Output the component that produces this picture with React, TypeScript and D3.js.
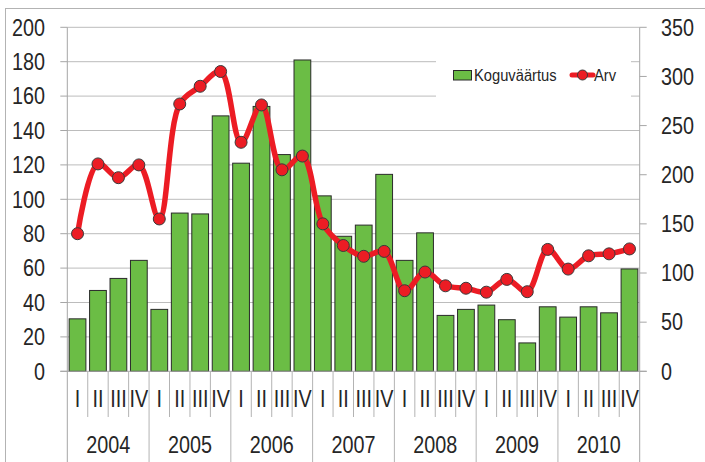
import React from "react";
import * as d3 from "d3";

const years = ["2004", "2005", "2006", "2007", "2008", "2009", "2010"];
const quarters = ["I", "II", "III", "IV"];
const koguvaartus = [
  30.5, 47, 54, 64.5,
  36, 92, 91.5, 148.5,
  121, 154, 126, 181,
  102, 78.5, 85, 114.5,
  64.5, 80.5, 32.5, 36,
  38.5, 30, 16.5, 37.5,
  31.5, 37.5, 34, 59.5,
];
const arv = [
  140, 211, 197, 210,
  155, 272, 290, 305,
  233, 271, 205, 219,
  150, 128, 117, 122,
  82, 101, 87, 84.5,
  80.5, 93.5, 81, 124,
  104, 117.5, 119.5, 124.5,
];
const leftTicks = [0, 20, 40, 60, 80, 100, 120, 140, 160, 180, 200];
const rightTicks = [0, 50, 100, 150, 200, 250, 300, 350];

const W = 705, H = 462;
const X0 = 67.3, X1 = 639.7, Y0 = 371.3, Y1 = 27.3;
const FONT = "'Liberation Sans', Arial, sans-serif";
const GREEN = "#6bbd45";
const RED = "#ec1c24";
const TXT = "#262626";

function T(props: {
  x: number;
  y: number;
  anchor?: "start" | "middle" | "end";
  size?: number;
  sx?: number;
  children: React.ReactNode;
}) {
  const { x, y, anchor = "start", size = 23, sx = 0.86, children } = props;
  return (
    <text
      transform={`translate(${x},${y}) scale(${sx},1)`}
      dy="0.36em"
      textAnchor={anchor}
      fontSize={size}
      fontFamily={FONT}
      fill={TXT}
    >
      {children}
    </text>
  );
}

export default function App() {
  const cats = years.flatMap((y) => quarters.map((q) => `${y}-${q}`));
  const x = d3.scaleBand().domain(cats).range([X0, X1]).paddingInner(0.18).paddingOuter(0.09);
  const bw = x.step();
  const yL = d3.scaleLinear().domain([0, 200]).range([Y0, Y1]);
  const yR = d3.scaleLinear().domain([0, 350]).range([Y0, Y1]);
  const cx = (i: number) => X0 + bw * (i + 0.5);
  const line = d3
    .line<number>()
    .x((_, i) => cx(i))
    .y((d) => yR(d))
    .curve(d3.curveCatmullRom.alpha(0.5));

  return (
    <svg width={W} height={H} style={{ position: "absolute", left: 0, top: 0, background: "#fff" }}>
      <rect x={5.5} y={8.5} width={W + 10} height={H + 10} fill="#fff" stroke="#b3b3b3" strokeWidth={1} />
      {leftTicks.slice(1).map((t) => (
        <line key={t} x1={X0} x2={X1} y1={yL(t)} y2={yL(t)} stroke="#bcbcbc" strokeWidth={1} />
      ))}
      <rect x={436} y={52} width={195} height={50} fill="#fff" />
      {koguvaartus.map((v, i) => (
        <rect
          key={i}
          x={x(cats[i])!}
          y={yL(v)}
          width={x.bandwidth()}
          height={Y0 - yL(v)}
          fill={GREEN}
          stroke="#2a2a2a"
          strokeWidth={1}
        />
      ))}
      <line x1={X0} x2={X0} y1={Y1} y2={H} stroke="#a6a6a6" />
      <line x1={X1} x2={X1} y1={Y1} y2={H} stroke="#a6a6a6" />
      <line x1={X0 - 7} x2={X1 + 7} y1={Y0} y2={Y0} stroke="#a6a6a6" />
      {leftTicks.map((t) => (
        <g key={t}>
          <line x1={X0 - 7} x2={X0} y1={yL(t)} y2={yL(t)} stroke="#a6a6a6" />
          <T x={45} y={yL(t)} anchor="end">{t}</T>
        </g>
      ))}
      {rightTicks.map((t) => (
        <g key={t}>
          <line x1={X1} x2={X1 + 7} y1={yR(t)} y2={yR(t)} stroke="#a6a6a6" />
          <T x={661} y={yR(t)}>{t}</T>
        </g>
      ))}
      {cats.map((c, i) => {
        const q = i % 4;
        const xl = X0 + bw * i;
        return (
          <g key={c}>
            {i > 0 && <line x1={xl} x2={xl} y1={Y0} y2={q === 0 ? H : 417} stroke="#b3b3b3" />}
            <T x={cx(i)} y={399} anchor="middle">{quarters[q]}</T>
          </g>
        );
      })}
      {years.map((y, j) => (
        <T key={y} x={X0 + bw * (4 * j + 2)} y={445} anchor="middle">{y}</T>
      ))}
      <path d={line(arv)!} fill="none" stroke={RED} strokeWidth={5.5} strokeLinejoin="round" />
      {arv.map((v, i) => (
        <circle key={i} cx={cx(i)} cy={yR(v)} r={6} fill={RED} stroke="#3a3a3a" strokeWidth={1} />
      ))}
      <rect x={453.5} y={70.5} width={18} height={9.5} fill={GREEN} stroke="#2a2a2a" strokeWidth={1} />
      <T x={474} y={75} size={16} sx={0.92}>Koguväärtus</T>
      <line x1={572} x2={593} y1={75} y2={75} stroke={RED} strokeWidth={5} strokeLinecap="round" />
      <circle cx={582.5} cy={75} r={5} fill={RED} stroke="#3a3a3a" strokeWidth={1} />
      <T x={594} y={75} size={16} sx={0.92}>Arv</T>
    </svg>
  );
}
